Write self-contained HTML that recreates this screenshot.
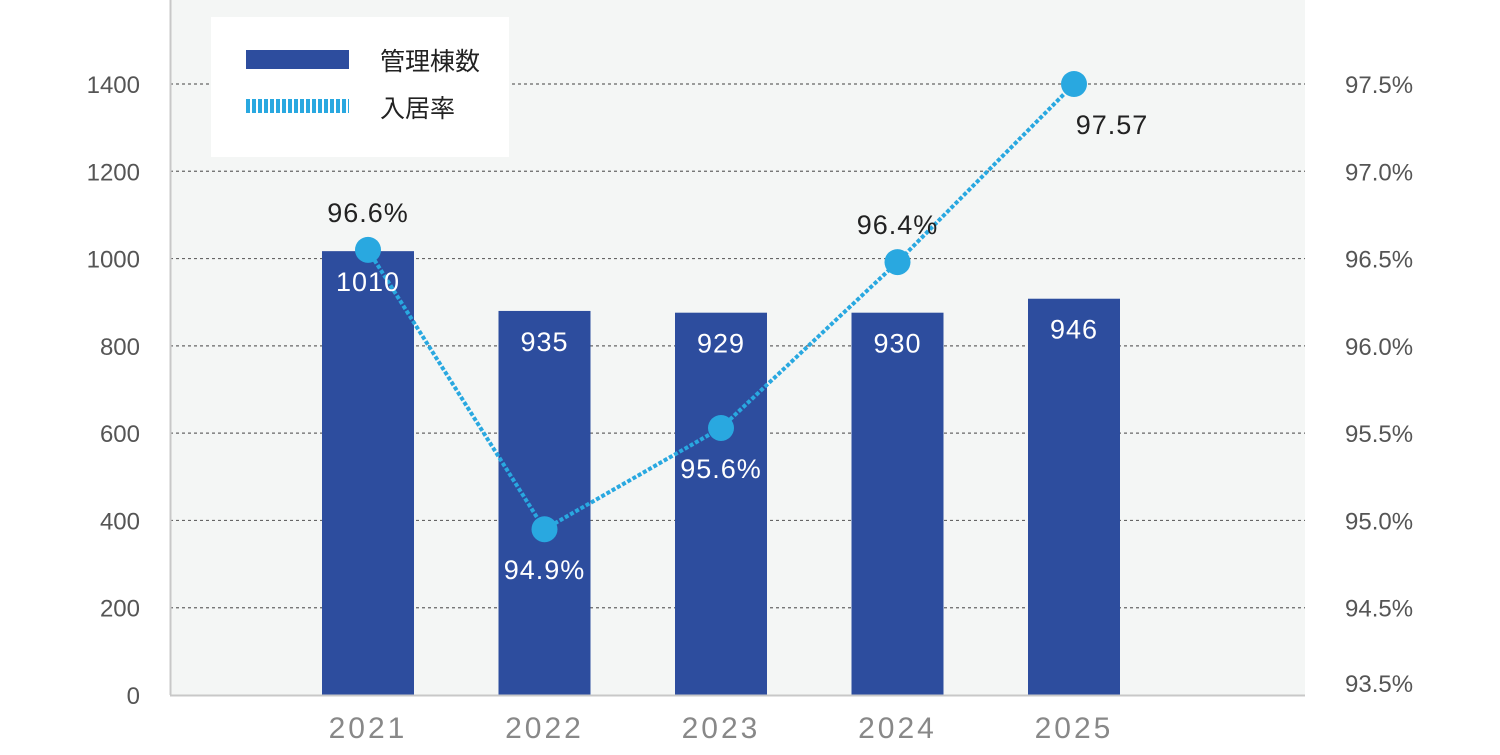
<!DOCTYPE html>
<html><head><meta charset="utf-8"><style>
body{margin:0;background:#fff;width:1500px;height:750px;overflow:hidden;font-family:"Liberation Sans","Noto Sans CJK JP",sans-serif}
</style></head><body>
<svg id="chart" width="1500" height="750" xmlns="http://www.w3.org/2000/svg" font-family="Liberation Sans, Noto Sans CJK JP, sans-serif">
<rect x="170" y="0" width="1135" height="695" fill="#f4f6f5"/>
<g id="grid"></g>
<g id="bars"></g>
<g id="line"></g>
<g id="labels"></g>
<line x1="170.5" y1="0" x2="170.5" y2="695" stroke="#c8c8c8" stroke-width="2"/>
<line x1="170" y1="695.5" x2="1305" y2="695.5" stroke="#c8c8c8" stroke-width="2"/>
<g>
<rect x="211" y="17" width="298" height="140" fill="#fff"/>
<rect x="246" y="50" width="103" height="19" fill="#2d4d9e"/>
<text x="380" y="70" font-size="25" fill="#222" font-family="Noto Sans CJK JP, sans-serif">管理棟数</text>
<line x1="246" y1="106" x2="349" y2="106" stroke="#29a8e0" stroke-width="14" stroke-dasharray="4 2"/>
<text x="380" y="117" font-size="25" fill="#222" font-family="Noto Sans CJK JP, sans-serif">入居率</text>
</g>
</svg>
<script>
const categories=["2021","2022","2023","2024","2025"];
const barValues=[1017,880,876,876,908];
const barLabels=["1010","935","929","930","946"];
const rateValues=[96.55,94.95,95.53,96.48,97.5];
const rateLabels=["96.6%","94.9%","95.6%","96.4%","97.57"];
const leftTicks=[0,200,400,600,800,1000,1200,1400];
const rightTicks=["93.5%","94.5%","95.0%","95.5%","96.0%","96.5%","97.0%","97.5%"];
const ns="http://www.w3.org/2000/svg";
const xC=i=>368+i*176.5;
const yL=v=>695-v*(611/1400);
const yR=v=>84+(97.5-v)*174.6;
function mk(parent,tag,attrs,text){const e=document.createElementNS(ns,tag);for(const k in attrs)e.setAttribute(k,attrs[k]);if(text!==undefined)e.textContent=text;document.getElementById(parent).appendChild(e);return e;}
leftTicks.forEach((t,i)=>{
 const y=yL(t);
 if(t>0){const g=mk("grid","line",{x1:170,x2:1305,y1:y,y2:y,stroke:"#666","stroke-width":1.2,"stroke-dasharray":"3 3"});
 
 }
 const a=mk("grid","text",{x:140,y:y+9,"font-size":24,fill:"#555","text-anchor":"end"},t);
 
 
 const b=mk("grid","text",{x:1345,y:(t===0?683:y)+9,"font-size":24,fill:"#555"},rightTicks[i]);
 
 
});
categories.forEach((c,i)=>{
 const x=xC(i);
 const r=mk("bars","rect",{x:x-46,y:yL(barValues[i]),width:92,height:695-yL(barValues[i]),fill:"#2d4d9e"});
 
 
 const t=mk("labels","text",{x:x,y:yL(barValues[i])+40,"font-size":27,fill:"#fff","text-anchor":"middle","letter-spacing":"1"},barLabels[i]);
 
 
 const xl=mk("labels","text",{x:x,y:738,"font-size":30,fill:"#888","text-anchor":"middle","letter-spacing":"3"},c);
 
 
});
const pts=rateValues.map((v,i)=>xC(i)+","+yR(v)).join(" ");
const pl=mk("line","polyline",{points:pts,fill:"none",stroke:"#29a8e0","stroke-width":4,"stroke-dasharray":"4 2"});


rateValues.forEach((v,i)=>{
 const c=mk("line","circle",{cx:xC(i),cy:yR(v),r:13,fill:"#29a8e0"});
 
 
 const above=(i===0||i===3);
 const col=(i===0||i===3||i===4)?"#222":"#fff";
 const t=mk("labels","text",{x:xC(i)+(i===4?38:0),y:above?yR(v)-28:yR(v)+50,"font-size":27,fill:col,"text-anchor":"middle","letter-spacing":"1"},rateLabels[i]);
 
 
});
</script>
</body></html>
